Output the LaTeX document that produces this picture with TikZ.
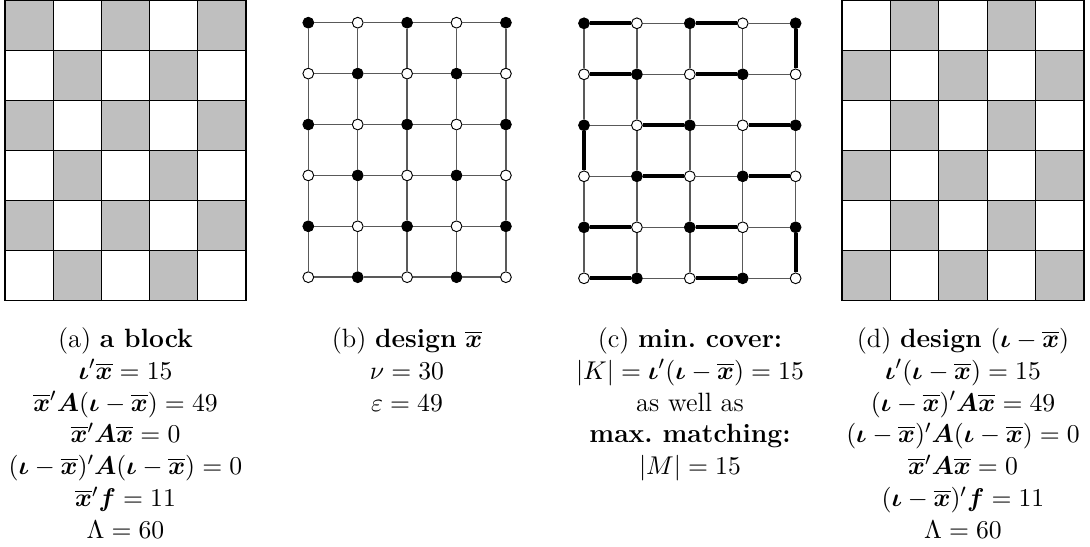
\documentclass[tikz,border=0pt]{standalone}
\usepackage{amsmath,amssymb,bm}
\usetikzlibrary{positioning}
\definecolor{cellGrey}{gray}{0.75}
\definecolor{edgeGrey}{gray}{0.35}
\newcommand{\xb}{\overline{\bm{x}}}
\newcommand{\io}{\bm{\iota}}
\newcommand{\Ab}{\bm{A}}
\newcommand{\fb}{\bm{f}}
\tikzset{
  cellbox/.style={draw=black,line width=0.5pt},
  blackvtx/.style={circle,draw=black,fill=black,inner sep=0pt,minimum size=4.6pt,line width=0.4pt},
  whitevtx/.style={circle,draw=black,fill=white,inner sep=0pt,minimum size=4.6pt,line width=0.4pt},
  gridedge/.style={draw=edgeGrey,line width=0.6pt},
  matchedge/.style={draw=black,line width=1.8pt},
  caption/.style={align=center,anchor=north,inner sep=0pt,font=\fontsize{11.3}{13.6}\selectfont}
}

\begin{document}
\begin{tikzpicture}[x=0.15mm,y=-0.15mm]
\useasboundingbox (0,0) rectangle (1090,547);
\foreach \c in {0,...,4}{
  \foreach \r in {0,...,5}{
    \pgfmathtruncatemacro{\odd}{mod(\c+\r,2)}
    \ifnum\odd=0 \def\fa{cellGrey}\def\fd{white}\def\vs{blackvtx}\else\def\fa{white}\def\fd{cellGrey}\def\vs{whitevtx}\fi
    \draw[cellbox,fill=\fa] ({5+48.2*\c},{0.6+50*\r}) rectangle ++(48.2,50);
    \draw[cellbox,fill=\fd] ({842+48.4*\c},{0.6+50*\r}) rectangle ++(48.4,50);
    \node[\vs] (b-\c-\r) at ({308.3+49.4*\c},{22.7+50.9*\r}) {};
    \node[\vs] (c-\c-\r) at ({584+52.9*\c},{23.3+51*\r}) {};
  }
}
\foreach \c [count=\n] in {0,...,3}{
  \foreach \r in {0,...,5}{
    \draw[gridedge] (b-\c-\r) -- (b-\n-\r);
    \draw[gridedge] (c-\c-\r) -- (c-\n-\r);
  }
}
\foreach \c in {0,...,4}{
  \foreach \r [count=\s] in {0,...,4}{
    \draw[gridedge] (b-\c-\r) -- (b-\c-\s);
    \draw[gridedge] (c-\c-\r) -- (c-\c-\s);
  }
}
\foreach \p/\q in {0-0/1-0,2-0/3-0,4-0/4-1,0-1/1-1,2-1/3-1,1-2/2-2,3-2/4-2,0-2/0-3,
                   1-3/2-3,3-3/4-3,0-4/1-4,2-4/3-4,4-4/4-5,0-5/1-5,2-5/3-5}
  \draw[matchedge] (c-\p) -- (c-\q);

\node[caption] (capA) at (125.5,327) {(a) \textbf{a block}\\ $\io'\xb=15$\\ $\xb'\Ab(\io-\xb)=49$\\ $\xb'\Ab\xb=0$\\
  $(\io-\xb)'\Ab(\io-\xb)=0$\\ $\xb'\fb=11$\\ $\Lambda=60$};
\node[caption] (capB) at (407,327) {(b) \textbf{design} $\xb$\\ $\nu=30$\\ $\varepsilon=49$};
\node[caption] (capC) at (690,327) {(c) \textbf{min.\ cover:}\\ $|K|=\io'(\io-\xb)=15$\\ as well as\\ \textbf{max.\ matching:}\\ $|M|=15$};
\node[caption] (capD) at (963,327) {(d) \textbf{design} $(\io-\xb)$\\ $\io'(\io-\xb)=15$\\ $(\io-\xb)'\Ab\xb=49$\\
  $(\io-\xb)'\Ab(\io-\xb)=0$\\ $\xb'\Ab\xb=0$\\ $(\io-\xb)'\fb=11$\\ $\Lambda=60$};
\end{tikzpicture}
\end{document}
